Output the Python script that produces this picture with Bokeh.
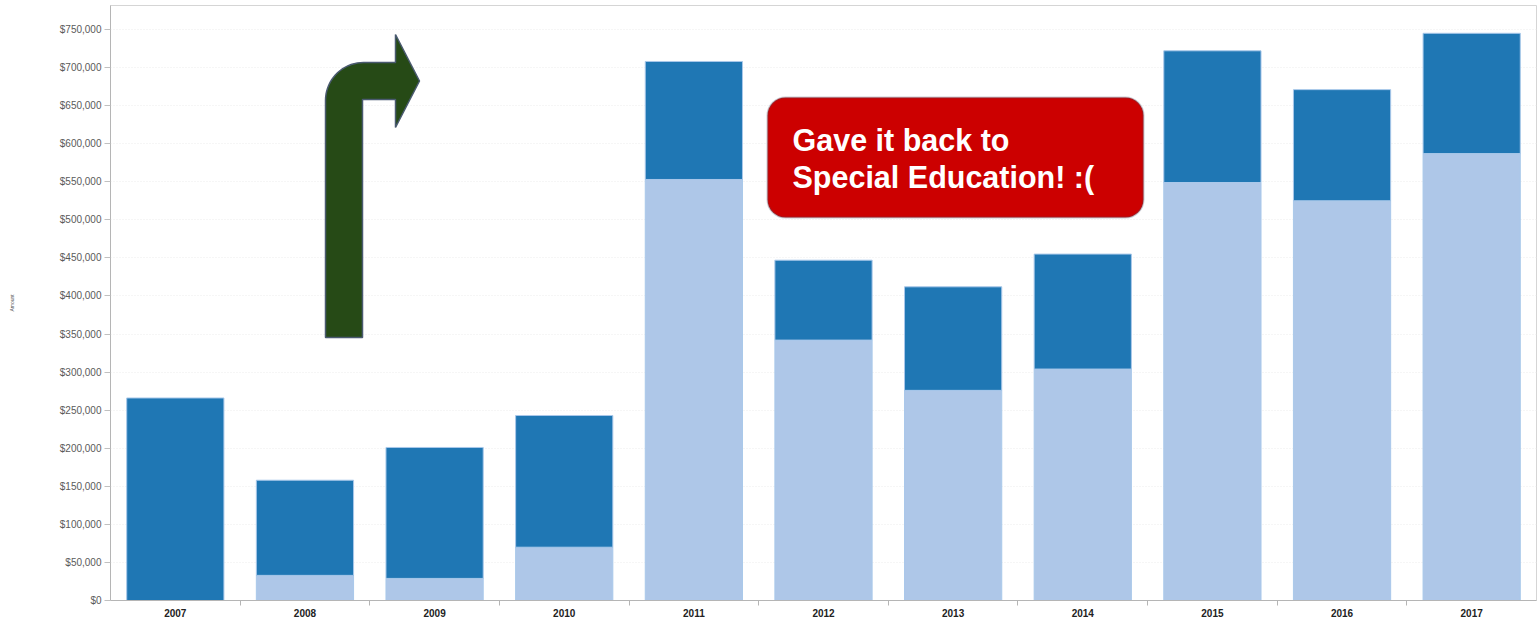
import numpy as np
from bokeh.plotting import figure
from bokeh.models import (ColumnDataSource, FixedTicker, NumeralTickFormatter,
                          Range1d, BoxAnnotation, Label)
from bokeh.embed import file_html
from bokeh.resources import INLINE

# ---- data ----
years = [2007, 2008, 2009, 2010, 2011, 2012, 2013, 2014, 2015, 2016, 2017]
total = [266000, 158000, 201000, 243000, 708000, 447000, 412000, 455000, 722000, 671000, 745000]
base = [0, 33000, 29000, 70000, 553000, 342000, 276000, 304000, 549000, 525000, 587000]
upper = [t - b for t, b in zip(total, base)]
y_ticks = list(range(0, 750001, 50000))
callout_text = ["Gave it back to", "Special Education! :("]

DARK = "#1f77b4"
LIGHT = "#aec7e8"

src = ColumnDataSource(dict(year=years, base=base, upper=upper))

Y_END = 781500
p = figure(width=1538, height=626, output_backend="svg", toolbar_location=None,
           x_range=Range1d(years[0] - 0.5, years[-1] + 0.5),
           y_range=Range1d(0, Y_END),
           min_border_left=110, min_border_right=2, min_border_top=5,
           min_border_bottom=26)

p.vbar_stack(["base", "upper"], x="year", width=0.75, source=src,
             color=[LIGHT, DARK], line_color="#a9c8ea", line_width=1)

# axes
p.xaxis.ticker = FixedTicker(ticks=years,
                             minor_ticks=[y + 0.5 for y in years[:-1]])
p.xaxis.major_label_overrides = {y: str(y) for y in years}
p.xaxis.major_tick_line_color = None
p.xaxis.minor_tick_out = 5
p.xaxis.minor_tick_in = 0
p.xaxis.minor_tick_line_color = "#b5b5b5"
p.xaxis.axis_line_color = "#b5b5b5"
p.xaxis.major_label_text_font = "Liberation Sans"
p.xaxis.major_label_text_font_style = "bold"
p.xaxis.major_label_text_font_size = "10px"
p.xaxis.major_label_text_color = "#222222"
p.xaxis.major_label_standoff = 2

p.yaxis.ticker = FixedTicker(ticks=y_ticks, minor_ticks=[])
p.yaxis.formatter = NumeralTickFormatter(format="$0,0")
p.yaxis.major_tick_out = 6
p.yaxis.major_tick_in = 0
p.yaxis.major_tick_line_color = "#c0c0c0"
p.yaxis.axis_line_color = "#b5b5b5"
p.yaxis.major_label_text_font = "Liberation Sans"
p.yaxis.major_label_text_font_size = "10px"
p.yaxis.major_label_text_color = "#5a5a5a"
p.yaxis.major_label_standoff = 3
p.yaxis.axis_label = "Amount"
p.yaxis.axis_label_text_font_size = "5px"
p.yaxis.axis_label_text_font_style = "normal"
p.yaxis.axis_label_text_color = "#555555"
p.yaxis.axis_label_standoff = 42

p.xgrid.grid_line_color = None
p.ygrid.grid_line_color = "#ececec"
p.ygrid.grid_line_dash = "1 2"
p.outline_line_color = "#d5d5d5"
p.background_fill_color = "white"
p.border_fill_color = "white"

# ---- decorations (placed via page-pixel helpers) ----
PX_PER_CAT = 1426 / 11.0
def X(px):
    return years[0] - 0.5 + (px - 110) / PX_PER_CAT
def Y(py):
    return (600 - py) * Y_END / 595.0

# bent arrow
r = 38
cx, cy = 363, 100
arc = [(cx + r * np.cos(t), cy - r * np.sin(t)) for t in np.linspace(np.pi, np.pi / 2, 20)]
pts = [(325, 337)] + arc + [(395, 62), (395, 34), (419, 80.5), (395, 127),
                            (395, 99), (362, 99), (362, 337)]
p.patch([X(a) for a, b in pts], [Y(b) for a, b in pts],
        fill_color="#264a16", line_color="#4a5a70", line_width=1.5)

# callout box
box = BoxAnnotation(left=X(767), right=X(1143), top=Y(97), bottom=Y(217),
                    fill_color="#cc0000", fill_alpha=1.0,
                    line_color="#44546a", line_width=2, border_radius=18)
p.add_layout(box)
for line, base_y in zip(callout_text, [139, 176]):
    p.add_layout(Label(x=X(792), y=Y(base_y), text=line, text_color="white",
                       text_font_size="30.5px", text_font_style="bold",
                       text_font="Liberation Sans", text_baseline="alphabetic"))

open("out.html", "w").write(file_html(p, INLINE))
